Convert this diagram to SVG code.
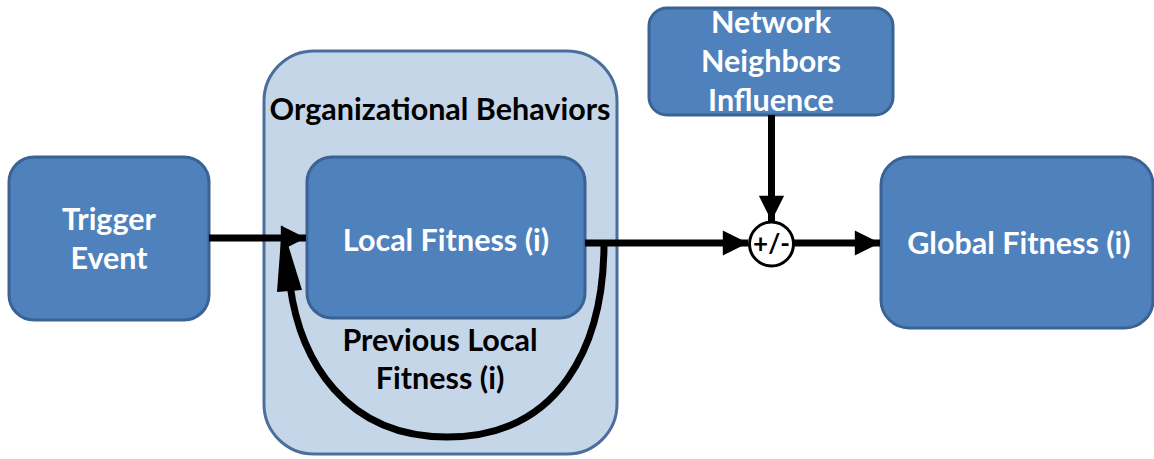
<svg xmlns="http://www.w3.org/2000/svg" width="1154" height="459" viewBox="0 0 1154 459">
<style>
.box{fill:#4f81bd;stroke:#3a6394;stroke-width:3}
.cont{fill:#c5d6e9;stroke:#4a6f9c;stroke-width:3}
.wt{font-family:Lato,"Open Sans",sans-serif;font-weight:bold;font-size:30.5px;fill:#fff;text-anchor:middle}
.bt{font-family:Lato,"Open Sans",sans-serif;font-weight:bold;font-size:30.5px;fill:#000;text-anchor:middle}
.ln{fill:none;stroke:#000;stroke-width:7}
</style>
<defs>
<marker id="ah" viewBox="0 0 10 10" refX="10" refY="5" markerWidth="3.7" markerHeight="3.6" orient="auto" markerUnits="strokeWidth">
<path d="M0,0 L10,5 L0,10 z" fill="#000"/>
</marker>
</defs>
<g id="org-behaviors">
<rect class="cont" x="264" y="51" width="353" height="403" rx="50"/>
<text class="bt" x="440" y="120">Organizational Behaviors</text>
</g>
<g id="trigger-event">
<rect class="box" x="9" y="157" width="200" height="163" rx="25"/>
<text class="wt" x="109" y="230">Trigger</text>
<text class="wt" x="109" y="269">Event</text>
</g>
<g id="local-fitness">
<rect class="box" x="307" y="157" width="278" height="161" rx="25"/>
<text class="wt" x="446" y="251">Local Fitness (i)</text>
</g>
<g id="previous-label">
<text class="bt" x="440" y="351">Previous Local</text>
<text class="bt" x="440" y="389">Fitness (i)</text>
</g>
<g id="network-neighbors">
<rect class="box" x="649" y="8" width="244" height="107" rx="18"/>
<text class="wt" x="771" y="33">Network</text>
<text class="wt" x="771" y="72">Neighbors</text>
<text class="wt" x="771" y="111">Influence</text>
</g>
<g id="global-fitness">
<rect class="box" x="881" y="157" width="272" height="171" rx="28"/>
<text class="wt" x="1019" y="254">Global Fitness (i)</text>
</g>
<g id="sum">
<circle cx="771.5" cy="244" r="22" fill="#fff" stroke="#000" stroke-width="3"/>
<text x="771.5" y="253" font-family="Lato,'Open Sans',sans-serif" font-weight="bold" font-size="26" text-anchor="middle" fill="#000">+/-</text>
</g>
<g id="connectors">
<line class="ln" x1="209" y1="238" x2="306" y2="238" marker-end="url(#ah)"/>
<line class="ln" x1="585" y1="243" x2="748" y2="243" marker-end="url(#ah)"/>
<line class="ln" x1="794" y1="243" x2="880" y2="243" marker-end="url(#ah)"/>
<line class="ln" x1="771.5" y1="115" x2="771.5" y2="221" marker-end="url(#ah)"/>
<path class="ln" d="M604,243 C604,345 560,437 447,437 C345,437 300,360 290,285"/>
<polygon points="282,225 302,290 277,292" fill="#000"/>
</g>
</svg>
